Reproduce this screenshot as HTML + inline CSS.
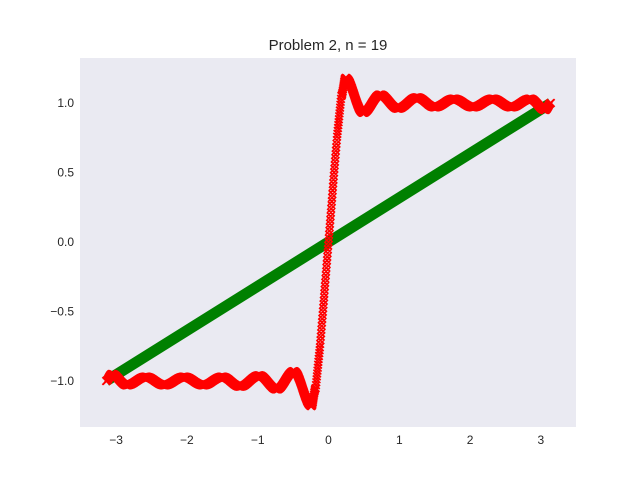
<!DOCTYPE html>
<html><head><meta charset="utf-8"><style>
body{margin:0;background:#fff;width:640px;height:480px;overflow:hidden}
text{font-family:"Liberation Sans","DejaVu Sans",sans-serif;fill:#262626}
</style></head><body>
<svg id="chart" width="640" height="480" xmlns="http://www.w3.org/2000/svg">
<rect x="0" y="0" width="640" height="480" fill="#fff"/>
<rect x="80" y="58" width="496" height="369" fill="#EAEAF2"/>
<text x="328" y="50" font-size="15" text-anchor="middle">Problem 2, n = 19</text>
<g id="xticks"></g>
<g id="yticks"></g>
<g id="series"></g>
</svg>
<script>
const xTicks=[-3,-2,-1,0,1,2,3];
const yTicks=[-1.0,-0.5,0.0,0.5,1.0];
const greenX=[-3.14159,3.14159];
const greenY=[-1.0,1.0];
// red series key points, x>=0 half
const redKeyX=[0,0.06,0.12,0.18,0.24,0.49,0.73,0.98,1.25,1.50,1.77,2.04,2.32,2.58,2.85,3.06,3.14159];
const redKeyY=[0,0.38,0.75,1.05,1.18,0.93,1.06,0.96,1.04,0.97,1.03,0.97,1.03,0.97,1.03,0.95,1.0];

const X=v=>328.5+v*70.8, Y=v=>242-v*139;
const NS="http://www.w3.org/2000/svg";
const mk=(t,a)=>{const e=document.createElementNS(NS,t);for(const k in a)e.setAttribute(k,a[k]);return e;};
const xg=document.getElementById('xticks'),yg=document.getElementById('yticks'),sg=document.getElementById('series');
xTicks.forEach(v=>{const t=mk('text',{x:X(v),y:444,'font-size':12,'text-anchor':'middle'});t.textContent=(v<0?'\u2212':'')+Math.abs(v);

xg.appendChild(t);});
yTicks.forEach(v=>{const t=mk('text',{x:74,y:Y(v)+4,'font-size':12,'text-anchor':'end'});
t.textContent=v<0?'\u2212'+Math.abs(v).toFixed(1):v.toFixed(1);

yg.appendChild(t);});
const gl=mk('line',{x1:X(greenX[0]),y1:Y(greenY[0]),x2:X(greenX[1]),y2:Y(greenY[1]),stroke:'#008000','stroke-width':11});

sg.appendChild(gl);
const kx=[],ky=[];
for(let i=redKeyX.length-1;i>0;i--){kx.push(-redKeyX[i]);ky.push(-redKeyY[i]);}
for(let i=0;i<redKeyX.length;i++){kx.push(redKeyX[i]);ky.push(redKeyY[i]);}
function evalAt(x){let i=0;while(i<kx.length-2&&x>kx[i+1])i++;
 const t=(x-kx[i])/(kx[i+1]-kx[i]);const s=(1-Math.cos(Math.PI*t))/2;
 if(Math.abs(kx[i])<0.2&&Math.abs(kx[i+1])<0.2)return ky[i]+(ky[i+1]-ky[i])*t;
 return ky[i]+(ky[i+1]-ky[i])*s;}
const rg=mk('g',{stroke:'#ff0000','stroke-width':1.6,fill:'none'});


const N=1500,d=3.8;
let p='';
for(let j=0;j<=N;j++){const x=-Math.PI+2*Math.PI*j/N;const px=X(x),py=Y(evalAt(x));
 p+=`M${(px-d).toFixed(1)} ${(py-d).toFixed(1)}L${(px+d).toFixed(1)} ${(py+d).toFixed(1)}M${(px-d).toFixed(1)} ${(py+d).toFixed(1)}L${(px+d).toFixed(1)} ${(py-d).toFixed(1)}`;}
rg.appendChild(mk('path',{d:p}));
sg.appendChild(rg);
</script>
</body></html>
